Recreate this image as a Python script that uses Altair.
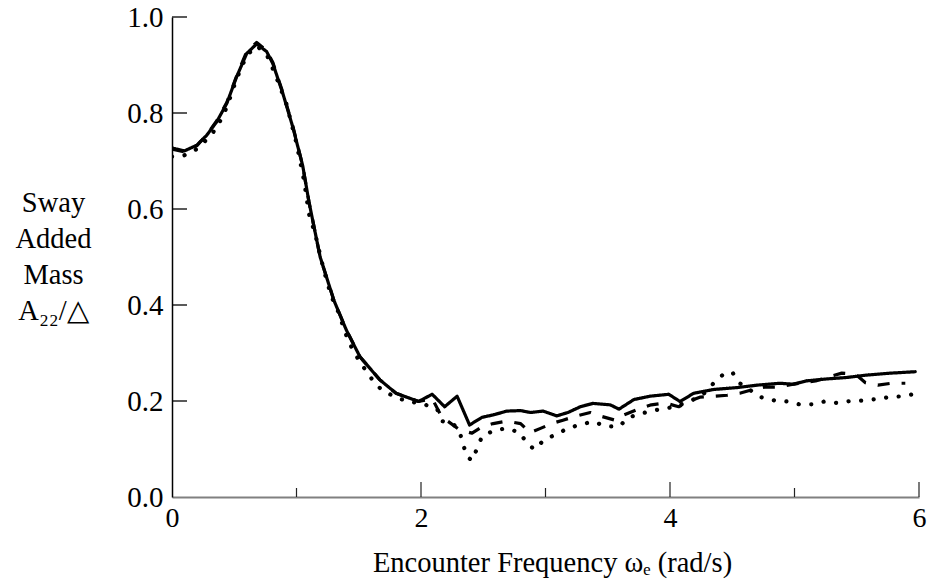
import altair as alt
import pandas as pd

# ---- data ----
solid_x = [0, 0.10, 0.20, 0.28, 0.36, 0.44, 0.52, 0.60, 0.68, 0.76,
           0.81, 0.89, 0.97, 1.05, 1.10, 1.19, 1.30, 1.40, 1.51, 1.67,
           1.80, 1.98, 2.09, 2.19, 2.29, 2.39, 2.49, 2.58, 2.69, 2.80,
           2.88, 2.98, 3.09, 3.18, 3.28, 3.38, 3.52, 3.59, 3.71, 3.84,
           3.99, 4.08, 4.19, 4.35, 4.54, 4.70, 4.88, 4.99, 5.10, 5.26,
           5.42, 5.58, 5.77, 5.97]
solid_y = [0.727, 0.721, 0.733, 0.754, 0.782, 0.820, 0.876, 0.924, 0.944, 0.928,
           0.903, 0.841, 0.771, 0.690, 0.615, 0.500, 0.410, 0.348, 0.292, 0.244,
           0.216, 0.199, 0.214, 0.188, 0.210, 0.150, 0.166, 0.171, 0.179, 0.180,
           0.176, 0.179, 0.169, 0.176, 0.188, 0.195, 0.192, 0.183, 0.203, 0.210,
           0.214, 0.199, 0.216, 0.224, 0.228, 0.233, 0.237, 0.235, 0.242, 0.246,
           0.249, 0.254, 0.258, 0.261]

dashed_x = [0, 0.10, 0.20, 0.28, 0.36, 0.44, 0.52, 0.60, 0.68, 0.76,
            0.81, 0.89, 0.97, 1.05, 1.10, 1.19, 1.30, 1.40, 1.51, 1.67,
            1.80, 1.98, 2.09, 2.17, 2.22, 2.31, 2.41, 2.49, 2.58, 2.69,
            2.80, 2.875, 2.96, 3.05, 3.14, 3.25, 3.36, 3.45, 3.56, 3.63,
            3.745, 3.85, 3.96, 4.07, 4.15, 4.24, 4.35, 4.46, 4.56, 4.655,
            4.76, 4.87, 4.99, 5.17, 5.38, 5.49, 5.57, 5.67, 5.78, 5.89]
dashed_y = [0.725, 0.719, 0.732, 0.755, 0.784, 0.822, 0.878, 0.928, 0.947, 0.930,
            0.905, 0.843, 0.773, 0.690, 0.615, 0.500, 0.410, 0.348, 0.292, 0.244,
            0.216, 0.199, 0.205, 0.165, 0.157, 0.140, 0.133, 0.146, 0.153, 0.158,
            0.153, 0.134, 0.143, 0.153, 0.160, 0.169, 0.176, 0.168, 0.160, 0.171,
            0.183, 0.192, 0.196, 0.188, 0.199, 0.208, 0.210, 0.212, 0.216, 0.223,
            0.229, 0.229, 0.235, 0.242, 0.258, 0.256, 0.238, 0.233, 0.237, 0.237]

dotted_x = [0, 0.10, 0.20, 0.28, 0.36, 0.44, 0.52, 0.60, 0.68, 0.76,
            0.83, 0.92, 1.00, 1.06, 1.10, 1.15, 1.22, 1.28, 1.34, 1.39,
            1.44, 1.50, 1.54, 1.61, 1.68, 1.78, 1.89, 2.00, 2.06, 2.13,
            2.17, 2.26, 2.31, 2.34, 2.37, 2.41, 2.45, 2.49, 2.58, 2.68,
            2.79, 2.85, 2.91, 2.99, 3.08, 3.18, 3.28, 3.38, 3.49, 3.59,
            3.67, 3.77, 3.88, 3.98, 4.08, 4.18, 4.27, 4.35, 4.43, 4.50,
            4.56, 4.73, 4.84, 4.94, 5.04, 5.14, 5.24, 5.34, 5.45, 5.55,
            5.66, 5.76, 5.87, 5.97]
dotted_y = [0.709, 0.712, 0.725, 0.745, 0.769, 0.812, 0.872, 0.920, 0.940, 0.922,
            0.880, 0.818, 0.737, 0.660, 0.590, 0.548, 0.472, 0.418, 0.383, 0.343,
            0.313, 0.285, 0.270, 0.244, 0.224, 0.210, 0.199, 0.195, 0.190, 0.183,
            0.158, 0.152, 0.136, 0.108, 0.084, 0.076, 0.101, 0.126, 0.138, 0.143,
            0.135, 0.113, 0.099, 0.119, 0.130, 0.143, 0.151, 0.157, 0.147, 0.147,
            0.166, 0.174, 0.181, 0.185, 0.192, 0.202, 0.215, 0.237, 0.256, 0.260,
            0.237, 0.208, 0.201, 0.199, 0.193, 0.193, 0.199, 0.196, 0.200, 0.201,
            0.204, 0.208, 0.210, 0.215]

x_label_values = [0, 2, 4, 6]
x_major_ticks = [2, 4, 6]
x_minor_ticks = [1, 3, 5]
y_label_values = [0.0, 0.2, 0.4, 0.6, 0.8, 1.0]
y_ticks = [0.2, 0.4, 0.6, 0.8, 1.0]

x_title = "Encounter Frequency ωₑ (rad/s)"
y_title = ["Sway", "Added", "Mass", "A₂₂/△"]

FONT = "Liberation Serif"
W, H = 747, 480

solid = pd.DataFrame({"x": solid_x, "y": solid_y})
dashed = pd.DataFrame({"x": dashed_x, "y": dashed_y})
dotted = pd.DataFrame({"x": dotted_x, "y": dotted_y})

x_scale = alt.Scale(domain=[0, 6], nice=False, zero=False)
y_scale = alt.Scale(domain=[0, 1], nice=False, zero=False)

x_axis = alt.Axis(
    values=x_label_values, format="d", title=x_title, grid=False,
    ticks=False, tickSize=0, domainColor="#808080", domainWidth=2,
    labelFont=FONT, labelFontSize=28, labelColor="black", labelPadding=7,
    labelFlush=False, labelOverlap=False,
    titleFont=FONT, titleFontSize=28.5, titleFontWeight="normal", titleColor="black",
    titleAlign="center", titleBaseline="alphabetic", titleX=380, titleY=74,
)
y_axis = alt.Axis(
    values=y_label_values, format=".1f", title=y_title, grid=False,
    ticks=False, tickSize=0, domainColor="black", domainWidth=1.5,
    labelFont=FONT, labelFontSize=29, labelColor="black", labelPadding=9,
    labelFlush=False, labelOverlap=False,
    titleFont=FONT, titleFontSize=28.5, titleFontWeight="normal", titleColor="black",
    titleAngle=0, titleAlign="center", titleBaseline="alphabetic",
    titleX=-119, titleY=194, titleLineHeight=36,
)

X = alt.X("x:Q", scale=x_scale, axis=x_axis)
Y = alt.Y("y:Q", scale=y_scale, axis=y_axis)


def line_layer(df, dash, width, cap):
    return alt.Chart(df).mark_line(
        color="black", strokeWidth=width, strokeDash=dash, strokeCap=cap,
        strokeJoin="round", clip=True,
    ).encode(x=X, y=Y)


dotted_layer = line_layer(dotted, [0.1, 12.5], 4.2, "round")
dashed_layer = line_layer(dashed, [12, 12], 3.2, "butt")
solid_layer = line_layer(solid, [1, 0], 3.2, "round")

xmaj = alt.Chart(pd.DataFrame({"x": x_major_ticks})).mark_rule(
    color="#222", strokeWidth=1.2
).encode(x=X, y=alt.value(H), y2=alt.value(H - 15))

xmin = alt.Chart(pd.DataFrame({"x": x_minor_ticks})).mark_rule(
    color="#222", strokeWidth=1.2
).encode(x=X, y=alt.value(H), y2=alt.value(H - 9))

yt = alt.Chart(pd.DataFrame({"y": y_ticks})).mark_rule(
    color="black", strokeWidth=1.3
).encode(y=Y, x=alt.value(0), x2=alt.value(15))

chart = alt.layer(dotted_layer, dashed_layer, solid_layer, xmaj, xmin, yt).properties(
    width=W, height=H,
    autosize=alt.AutoSizeParams(type="none"),
    padding={"left": 172, "top": 17, "right": 11, "bottom": 91},
    background="white",
).configure_view(stroke=None)

chart.save("out.html", embed_options={"renderer": "svg", "actions": False})
